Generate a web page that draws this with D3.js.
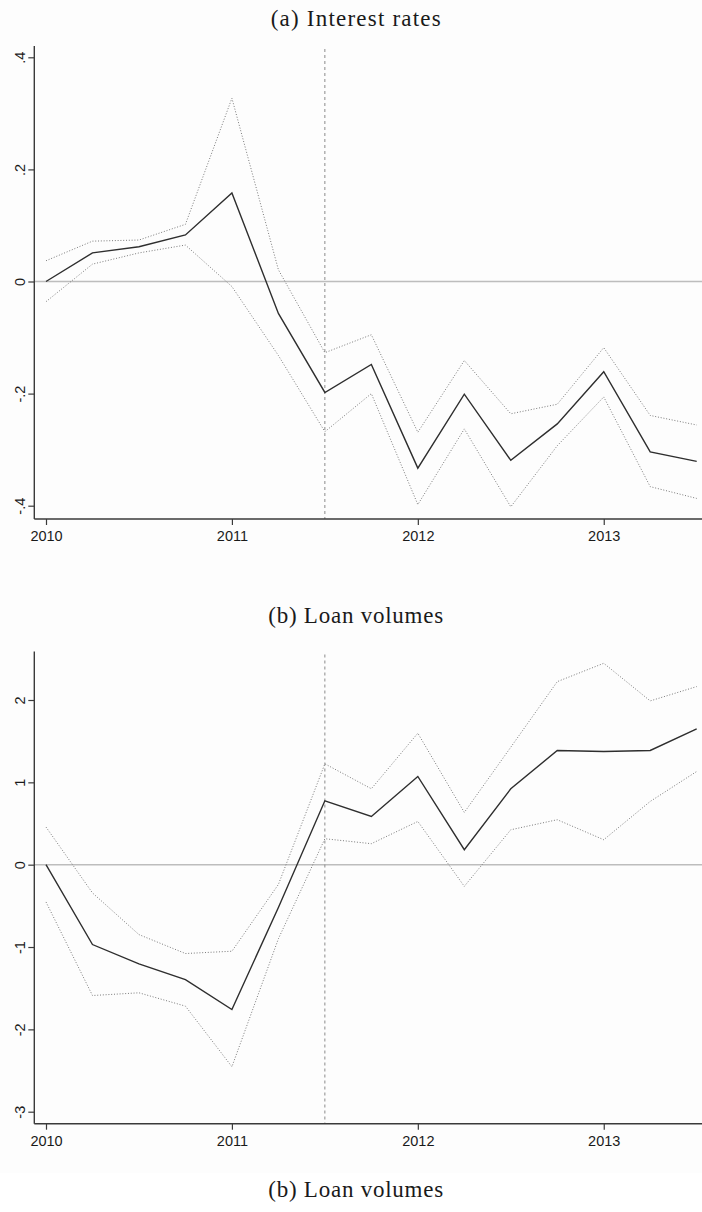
<!DOCTYPE html>
<html>
<head>
<meta charset="utf-8">
<script src="https://cdn.jsdelivr.net/npm/d3@7"></script>
<style>
  html, body { margin: 0; padding: 0; background: #ffffff; }
  svg { display: block; }
</style>
</head>
<body>
<svg id="chart" width="702" height="1212"></svg>
<script>
// Quarterly event-study estimates, 2010Q1 – 2013Q3
const quarters = [2010, 2010.25, 2010.5, 2010.75, 2011, 2011.25, 2011.5, 2011.75,
                  2012, 2012.25, 2012.5, 2012.75, 2013, 2013.25, 2013.5];
const yearTicks = [2010, 2011, 2012, 2013];
const eventDate = 2011.5;

// (a) Interest rates: point estimate with upper / lower confidence bounds
const rateEst   = [0, 0.051, 0.062, 0.083, 0.158, -0.057, -0.198, -0.148,
                   -0.333, -0.201, -0.319, -0.254, -0.161, -0.304, -0.321];
const rateUpper = [0.037, 0.072, 0.074, 0.102, 0.327, 0.021, -0.127, -0.095,
                   -0.269, -0.141, -0.236, -0.219, -0.118, -0.239, -0.256];
const rateLower = [-0.036, 0.031, 0.051, 0.065, -0.009, -0.132, -0.268, -0.200,
                   -0.398, -0.263, -0.402, -0.293, -0.206, -0.366, -0.387];
const rateTicks = [0.4, 0.2, 0, -0.2, -0.4];
const rateTickLabels = [".4", ".2", "0", "-.2", "-.4"];

// (b) Loan volumes: point estimate with upper / lower confidence bounds
const loanEst   = [0, -0.97, -1.205, -1.395, -1.759, -0.52, 0.776, 0.586,
                   1.071, 0.182, 0.922, 1.387, 1.375, 1.387, 1.65];
const loanUpper = [0.457, -0.343, -0.849, -1.079, -1.051, -0.24, 1.225, 0.922,
                   1.597, 0.635, 1.427, 2.223, 2.446, 1.989, 2.163];
const loanLower = [-0.453, -1.589, -1.556, -1.718, -2.454, -0.9, 0.315, 0.255,
                   0.525, -0.263, 0.424, 0.546, 0.303, 0.768, 1.132];
const loanTicks = [2, 1, 0, -1, -2, -3];
const loanTickLabels = ["2", "1", "0", "-1", "-2", "-3"];

const titles = ["(a) Interest rates", "(b) Loan volumes", "(b) Loan volumes"];

const svg = d3.select("#chart");
const W = 702;

// faint page tint behind the figure panels
svg.append("rect").attr("x", 0).attr("y", 0).attr("width", W).attr("height", 1173)
  .attr("fill", "#fdfdfd");

const x = d3.scaleLinear().domain([2010, 2013.5]).range([46, 696.7]);
const axisLeftX = 34.3;
const axisRightX = 702;

const AXIS_COLOR = "#3a3a3a";
const TICK_FONT = "'Liberation Sans', Arial, Helvetica, sans-serif";

function panel(cfg) {
  const g = svg.append("g");
  const y = d3.scaleLinear().domain(cfg.domain).range(cfg.range);

  // zero reference line
  g.append("line")
    .attr("x1", axisLeftX).attr("x2", axisRightX)
    .attr("y1", y(0)).attr("y2", y(0))
    .attr("stroke", "#bdbdbd").attr("stroke-width", 1.6);

  // event date marker
  g.append("line")
    .attr("x1", x(eventDate)).attr("x2", x(eventDate))
    .attr("y1", cfg.top + 3).attr("y2", cfg.bottom)
    .attr("stroke", "#8a8a8a").attr("stroke-width", 1)
    .attr("stroke-dasharray", "3,3");

  const line = d3.line().x((d, i) => x(quarters[i])).y(d => y(d));

  // confidence bounds
  [cfg.upper, cfg.lower].forEach(series => {
    g.append("path").datum(series)
      .attr("d", line)
      .attr("fill", "none")
      .attr("stroke", "#7a7a7a")
      .attr("stroke-width", 1)
      .attr("stroke-dasharray", "1,1.8");
  });

  // point estimate
  g.append("path").datum(cfg.est)
    .attr("d", line)
    .attr("fill", "none")
    .attr("stroke", "#2e2e2e")
    .attr("stroke-width", 1.4)
    .attr("stroke-linejoin", "miter");

  // y axis
  const yAxis = d3.axisLeft(y)
    .tickValues(cfg.ticks)
    .tickFormat((d, i) => cfg.tickLabels[i])
    .tickSize(6)
    .tickSizeOuter(0);
  const ya = g.append("g").attr("transform", `translate(${axisLeftX},0)`).call(yAxis);
  ya.select(".domain").remove();
  ya.selectAll(".tick line").attr("stroke", AXIS_COLOR).attr("stroke-width", 1.2);
  ya.selectAll(".tick text")
    .attr("fill", "#1a1a1a")
    .attr("font-family", TICK_FONT)
    .attr("font-size", 14.5)
    .attr("x", 0).attr("dy", 0)
    .attr("text-anchor", "middle")
    .attr("transform", "translate(-9.5,0) rotate(-90)");
  g.append("line")
    .attr("x1", axisLeftX).attr("x2", axisLeftX)
    .attr("y1", cfg.top).attr("y2", cfg.bottom)
    .attr("stroke", AXIS_COLOR).attr("stroke-width", 1.4);

  // x axis
  const xAxis = d3.axisBottom(x)
    .tickValues(yearTicks)
    .tickFormat(d3.format("d"))
    .tickSize(6)
    .tickSizeOuter(0);
  const xa = g.append("g").attr("transform", `translate(0,${cfg.bottom})`).call(xAxis);
  xa.select(".domain").remove();
  xa.selectAll(".tick line").attr("stroke", AXIS_COLOR).attr("stroke-width", 1.2);
  xa.selectAll(".tick text")
    .attr("fill", "#1a1a1a")
    .attr("font-family", TICK_FONT)
    .attr("font-size", 14.5)
    .attr("y", 12).attr("dy", "0.71em");
  g.append("line")
    .attr("x1", axisLeftX).attr("x2", axisRightX)
    .attr("y1", cfg.bottom).attr("y2", cfg.bottom)
    .attr("stroke", AXIS_COLOR).attr("stroke-width", 1.4);
}

panel({
  domain: [-0.4, 0.4], range: [505.7, 57.3], top: 46, bottom: 519,
  est: rateEst, upper: rateUpper, lower: rateLower,
  ticks: rateTicks, tickLabels: rateTickLabels
});

panel({
  domain: [-3, 2], range: [1111.7, 700], top: 651.5, bottom: 1123.7,
  est: loanEst, upper: loanUpper, lower: loanLower,
  ticks: loanTicks, tickLabels: loanTickLabels
});

// panel captions
const captionY = [26, 623, 1197];
const captionWidths = [170, 175, 175];
titles.forEach((t, i) => {
  svg.append("text")
    .attr("x", 355.7).attr("y", captionY[i])
    .attr("text-anchor", "middle")
    .attr("font-family", "'Liberation Serif', 'Times New Roman', serif")
    .attr("font-size", 23)
    .attr("textLength", captionWidths[i])
    .attr("lengthAdjust", "spacing")
    .attr("fill", "#1a1a1a")
    .text(t);
});
</script>
</body>
</html>
